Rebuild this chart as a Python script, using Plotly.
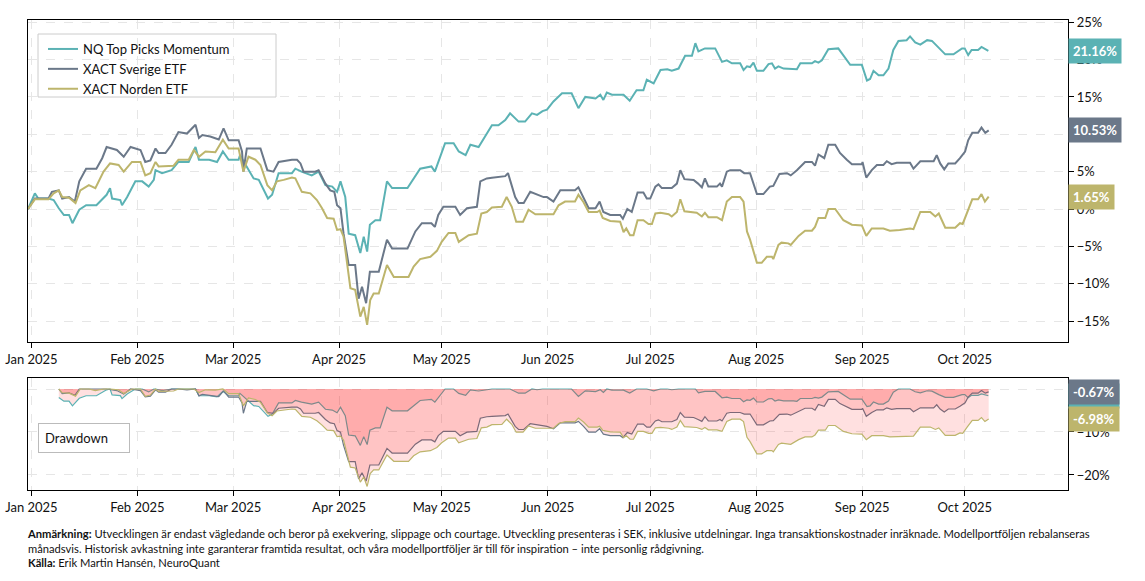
import pandas as pd
import plotly.graph_objects as go
from plotly.subplots import make_subplots

# ---- data (day offset from 2025-01-01, cumulative return in %) ----
SERIES_NAMES = ["NQ Top Picks Momentum", "XACT Sverige ETF", "XACT Norden ETF"]
SERIES_COLORS = ["#5BB2B4", "#6B7889", "#BDB56C"]

NQ = [(-1,0),(1,2.1),(2,1.4),(5,1.4),(6.5,1.2),(8,0.1),(9.5,-0.8),(11,-0.8),(12,-1.9),(14,-0.1),(16,0.5),(19,0.5),
      (22,1.9),(23,2.8),(23.6,1.4),(26,1.2),(26.5,0.5),(28,1.6),(30.4,3.7),(32.4,3.7),(34.3,3.0),(35.8,3.9),(36.3,5.2),
      (38.2,4.8),(41,5.2),(43,6.3),(46,6.3),(48,8.3),(49,6.6),(52,6.6),(54.3,6.3),(56,7.7),(57.7,6.6),(60.6,6.6),(61,7.2),
      (62.6,5.9),(65,4.1),(66.5,3.9),(68,2.5),(69.2,1.4),(70.4,1.9),(72.3,4.8),(76.2,4.8),(77.2,5.4),(79,5.0),(82,4.5),
      (84,5.0),(86,3.2),(88,3.0),(89.4,2.3),(90.4,3.7),(91.8,1.6),(92.8,-3.3),(94.7,-3.5),(96.2,-5.9),(97.2,-3.7),
      (98.2,-5.7),(99,-2.1),(100.6,-1.5),(102,-1.5),(104,3.7),(105.5,2.8),(110,2.8),(113.7,5.4),(117,5.7),(118,5.0),
      (121,8.8),(123.5,8.8),(125,7.7),(127,7.2),(128.4,8.6),(130.8,8.3),(134.7,11.2),(136.6,11.2),(138.6,11.9),(140,12.8),
      (142.5,11.7),(144.4,11.7),(146.4,12.8),(147.9,12.6),(149.5,13.1),(150.8,13.3),(152.7,14.4),(155.2,15.5),(158,15.5),
      (160,13.5),(162,15.0),(165,14.8),(166.4,15.3),(167.3,14.6),(168.3,15.6),(169.8,15.3),(173.2,15.3),(175,14.5),
      (177,15.9),(179,15.9),(180,17.3),(182,16.8),(184,18.6),(186,18.7),(187.3,18.5),(189.3,18.8),(191.2,20.5),
      (193.2,20.5),(194.2,22.2),(195.1,21.1),(197,21.5),(200,21.5),(202,19.7),(203.4,19.9),(204.9,19.5),(207.3,19.5),
      (208.3,18.6),(209.3,19.1),(210.2,19.0),(211.2,19.6),(212.2,18.5),(214.1,18.5),(215.6,19.4),(216.6,19.5),
      (217.5,18.8),(218.5,19.1),(220,18.8),(222.9,18.8),(223.9,18.7),(224.9,19.5),(228.3,19.5),(229.2,19.8),
      (230.2,19.6),(231.2,19.9),(233.1,21.4),(236,21.5),(237.5,20.6),(239.5,19.3),(242.9,19.3),(244.4,17.2),
      (245.3,17.4),(246.3,18.5),(247.8,17.9),(249.2,17.9),(250.7,18.8),(252.1,21.3),(253.6,22.5),(256,22.6),
      (257,23.1),(258.5,22.3),(260,22.0),(262,22.6),(263.4,22.5),(265.4,21.5),(267.3,20.7),(269.7,20.7),(272.2,21.5),
      (273,21.5),(274,20.6),(275,21.3),(276.9,21.3),(277.9,21.7),(278.9,21.4),(279.9,21.16)]

SVERIGE = [(-1,0),(1,1.4),(5,1.4),(6,2.3),(8,2.5),(9,1.4),(11,1.6),(12.7,1.0),(14,3.7),(16,5.4),(19,5.4),(20.7,6.8),
      (22,8.3),(25,7.9),(27,7.0),(29,8.3),(31.9,7.9),(33.3,6.3),(34.8,6.5),(36.3,8.1),(37.2,7.5),(39.2,7.5),(41,8.6),
      (43,10.3),(45.5,10.1),(48,11.28),(49,9.5),(50,9.9),(52.3,9.7),(54.8,9.3),(56.2,10.8),(57.7,9.2),(60.6,9.2),
      (61.6,7.7),(62,5.0),(63,8.1),(67,8.1),(69,5.2),(70.8,5.0),(72.3,6.3),(76.2,6.6),(77.7,6.6),(78.7,6.1),(79.6,5.0),
      (83,5.0),(84,5.2),(86,3.4),(87.4,2.5),(88.6,2.3),(89.4,0.5),(90.4,0.1),(91.3,-3.3),(92.8,-7.5),(94.7,-7.5),
      (95.7,-12.0),(96.7,-10.4),(97.9,-12.6),(99,-8.4),(101.6,-8.4),(104,-4.1),(105.5,-5.3),(110,-5.3),(112.3,-3.0),
      (114.2,-1.9),(117,-1.9),(118,-2.4),(119,-0.8),(120.5,0.3),(124,0.3),(125.4,-0.8),(127.4,0.1),(130.3,0.3),
      (131.3,3.7),(133.2,4.1),(134.7,4.2),(138.6,4.4),(139.4,4.8),(141.5,1.6),(142.5,0.8),(144,0.8),(145.9,2.3),
      (148.3,1.9),(149.8,1.6),(150.8,1.6),(152.7,1.0),(154.7,2.5),(159,2.5),(160,2.9),(161.5,1.6),(163,0.1),(165,0.1),
      (166.2,1.0),(167.3,-0.4),(169.3,-0.8),(172.2,-0.8),(173,-1.3),(174.3,0.0),(175.6,-0.4),(177.3,2.2),(179,2.2),
      (180,1.4),(181,1.4),(182.5,3.0),(183.4,3.3),(184.4,2.8),(187.3,2.8),(188.8,3.4),(189.8,5.2),(191,4.0),
      (193.7,3.9),(195,3.4),(196.1,2.9),(197,4.1),(198,3.0),(200.5,3.0),(201.4,3.4),(202,3.0),(203.4,5.0),(204.4,5.2),
      (207.3,5.2),(208.5,4.8),(210.2,4.8),(212.2,2.0),(214.1,2.0),(216,3.0),(217,3.1),(218.8,4.7),(221,4.8),
      (222.1,4.5),(223.9,5.2),(226.3,6.3),(228.3,6.3),(229.2,5.8),(230.2,7.3),(231.9,6.8),(233.1,8.6),(235.1,8.6),
      (236.5,7.5),(238.5,6.6),(240,6.0),(242.9,6.0),(243.1,6.3),(244.2,4.2),(245.8,5.2),(247.3,5.9),(249.2,5.9),
      (250.2,6.4),(251.6,6.0),(253.1,6.2),(257,6.2),(258,5.4),(260,6.4),(263.9,6.4),(264.8,7.2),(265.8,6.1),
      (267,5.3),(268.2,6.1),(270.2,6.1),(271.6,6.8),(273.1,7.7),(274,9.2),(275.2,10.2),(276.9,10.2),(277.9,10.9),
      (279,10.2),(280,10.53)]

NORDEN = [(-1,0),(1,1.3),(5,1.3),(6.5,2.1),(8,2.5),(9,1.6),(11,1.5),(12.9,0.8),(14.3,2.5),(16.8,3.2),(18.7,2.8),
      (21.1,5.0),(23,6.1),(25.5,5.9),(27,5.0),(29.4,6.3),(31.9,6.3),(33.3,4.5),(34.8,4.8),(36.3,6.3),(37.2,5.7),
      (41.6,5.8),(43,6.6),(46,6.6),(47.5,7.9),(49,7.0),(50.9,7.7),(53.8,7.6),(56,9.28),(57.7,8.1),(60.6,8.1),(62,5.0),
      (63.5,7.0),(65.5,6.6),(67,5.9),(69,3.2),(70.4,2.5),(71.8,3.7),(73.8,3.9),(76.2,4.2),(77.2,4.1),(79.1,2.3),
      (81.6,2.1),(83.5,1.2),(85,0.1),(86.5,-1.2),(88.4,-1.3),(89.4,-2.8),(90.4,-2.7),(91.3,-3.7),(93.3,-10.6),
      (94.7,-10.8),(96.2,-14.4),(97.2,-13.1),(98.2,-15.5),(99.1,-12.2),(100.1,-11.3),(101.6,-11.3),(104,-7.5),
      (106,-9.1),(110.3,-9.1),(111.8,-7.7),(113.7,-6.7),(116.7,-6.4),(118.6,-5.6),(120,-4.4),(122,-3.2),(124,-3.2),
      (125,-4.4),(127.9,-3.5),(130.3,-3.3),(131.6,-0.6),(133.2,-0.4),(134.7,0.2),(137.6,0.3),(139,1.6),(140.5,0.3),
      (141.8,-1.7),(143.8,-1.7),(145.4,-0.1),(147.4,-0.7),(149.8,-0.7),(152.7,-0.7),(154.2,0.5),(156.1,1.0),(159,1.0),
      (160,1.9),(161.5,0.9),(163,-0.4),(165.5,-0.4),(166.2,-0.2),(167.1,-1.2),(169.3,-1.6),(172.2,-1.7),(173.2,-3.1),
      (174,-2.6),(175.1,-3.5),(176.1,-3.5),(177.3,-1.5),(179,-1.5),(180.5,-2.0),(181.5,-2.0),(182.5,-0.6),(184,-0.5),
      (186.4,-0.7),(187.3,-1.0),(188.8,-0.4),(189.8,1.3),(191,-0.3),(194.6,-0.5),(196.1,-1.0),(197,-0.5),(198,-1.1),
      (200.5,-1.1),(202,-1.5),(203.4,1.0),(204.9,1.6),(207.3,1.6),(208.3,1.0),(209.3,-3.0),(210.2,-4.1),(212.2,-7.2),
      (213.6,-7.2),(215.1,-6.4),(216.6,-6.4),(217,-6.7),(218.5,-4.8),(219.4,-4.5),(221.4,-4.6),(222.1,-4.8),
      (224.4,-3.6),(226.3,-2.9),(228.3,-2.9),(229.2,-2.4),(230.2,-1.2),(232.2,-1.2),(233.1,0.0),(235.1,0.0),
      (237.5,-1.5),(240,-2.1),(242.9,-2.2),(244.2,-3.6),(245.8,-2.6),(249.2,-2.6),(251.1,-2.9),(254,-2.8),(257,-2.6),
      (258,-2.7),(260,-0.4),(262.9,-0.4),(264.4,-1.0),(265.4,-0.6),(267.3,-2.5),(270.2,-2.5),(271.6,-1.9),
      (272.4,-2.0),(273.7,-0.4),(275.2,1.3),(276.9,1.3),(277.9,2.0),(278.9,1.0),(280,1.65)]

DD_START_DAY = 8  # drawdown panel shown from this day on

FOOTNOTE = ("<b>Anmärkning:</b> Utvecklingen är endast vägledande och beror på exekvering, slippage och courtage. "
            "Utveckling presenteras i SEK, inklusive utdelningar. Inga transaktionskostnader inräknade. Modellportföljen rebalanseras<br>"
            "månadsvis. Historisk avkastning inte garanterar framtida resultat, och våra modellportföljer är till för inspiration – inte personlig rådgivning.<br>"
            "<b>Källa:</b> Erik Martin Hansén, NeuroQuant")

FONT = "Lato"
BASE = pd.Timestamp("2025-01-01")


def to_dates(days):
    return [BASE + pd.Timedelta(days=float(d)) for d in days]


fig = make_subplots(rows=2, cols=1, shared_xaxes=False, vertical_spacing=0.0,
                    row_heights=[0.7, 0.3])

all_series = [NQ, SVERIGE, NORDEN]
dd_final = []
for name, color, data in zip(SERIES_NAMES, SERIES_COLORS, all_series):
    days = [p[0] for p in data]
    vals = [p[1] for p in data]
    fig.add_trace(go.Scatter(x=to_dates(days), y=vals, name=name, mode="lines",
                             line=dict(color=color, width=2)), row=1, col=1)
    # drawdown
    peak = -1e9
    dd_days, dd_vals = [], []
    for d, v in zip(days, vals):
        lvl = 1 + v / 100.0
        peak = max(peak, lvl)
        if d >= DD_START_DAY:
            dd_days.append(d)
            dd_vals.append((lvl / peak - 1) * 100)
    dd_final.append(dd_vals[-1])
    fig.add_trace(go.Scatter(x=to_dates(dd_days), y=dd_vals, mode="lines", showlegend=False,
                             fill="tozeroy", fillcolor="rgba(255,0,0,0.12)",
                             line=dict(color=color, width=1.2)), row=2, col=1)

W, H = 1145, 581
L, T = 28, 20
R = W - 1068
B = H - 490
plot_w = 1068 - 28
plot_h = 490 - 20
main_dom = [(490 - 342) / plot_h, 1.0]
dd_dom = [0.0, (490 - 378) / plot_h]


def px_x(px):
    return (px - 28) / plot_w


def px_y(py):
    return 1 - (py - 20) / plot_h


xrange = [BASE - pd.Timedelta(days=1), BASE + pd.Timedelta(days=303.2)]
axis_common = dict(showline=True, linecolor="black", linewidth=1.2, mirror=True,
                   ticks="outside", ticklen=5, tickcolor="black", automargin=False,
                   showgrid=True, gridcolor="#e6e6e6", griddash="dash", gridwidth=1,
                   zeroline=False, tickfont=dict(size=13, color="#111", family=FONT))

fig.update_xaxes(**axis_common, range=xrange, dtick="M1", tick0="2025-01-01", tickformat="%b %Y",
                 ticklabeloverflow="allow")
fig.update_yaxes(**axis_common, side="right", ticksuffix="%")
fig.update_yaxes(range=[-17.8, 25.3], dtick=5, domain=main_dom, row=1, col=1)
fig.update_yaxes(range=[-23.5, 2.56], dtick=10, tick0=0, domain=dd_dom, row=2, col=1)
fig.update_xaxes(domain=[0, 1])

annotations = []
finals = [s[-1][1] for s in all_series]
for val, color in zip(finals, SERIES_COLORS):
    annotations.append(dict(x=1, xref="paper", y=val, yref="y", xanchor="left", yanchor="middle",
                            text=f"<b>{val:.2f}%</b>", showarrow=False, bgcolor=color, borderpad=4,
                            font=dict(color="white", size=13, family=FONT)))
for val, color in zip(dd_final, SERIES_COLORS):
    annotations.append(dict(x=1, xref="paper", y=val, yref="y2", xanchor="left", yanchor="middle",
                            text=f"<b>{val:.2f}%</b>", showarrow=False, bgcolor=color, borderpad=4,
                            font=dict(color="white", size=13, family=FONT)))
annotations.append(dict(x=px_x(38), xref="paper", y=px_y(423), yref="paper",
                        xanchor="left", yanchor="top", text="Drawdown", showarrow=False,
                        bgcolor="white", bordercolor="#bbbbbb", borderwidth=1, borderpad=6,
                        width=78, align="left", font=dict(size=13, color="#111", family=FONT)))
annotations.append(dict(x=px_x(25), xref="paper", y=px_y(525), yref="paper",
                        xanchor="left", yanchor="top", text=FOOTNOTE, showarrow=False, align="left",
                        font=dict(size=11.2, color="#111", family=FONT)))

# legend frame
shapes = [dict(type="rect", xref="paper", yref="paper", x0=px_x(38), x1=px_x(276),
               y0=px_y(97), y1=px_y(34), line=dict(color="#cccccc", width=1),
               fillcolor="white", layer="below")]

fig.update_layout(
    width=W, height=H, margin=dict(l=L, r=R, t=T, b=B),
    paper_bgcolor="white", plot_bgcolor="white",
    font=dict(family=FONT, size=13, color="#111"),
    legend=dict(x=px_x(43), y=px_y(34), xanchor="left", yanchor="top",
                bgcolor="rgba(0,0,0,0)", borderwidth=0,
                font=dict(size=13, family=FONT, color="#111")),
    annotations=annotations,
    shapes=shapes,
)

fig.write_html("out.html", config={"displayModeBar": False},
               post_script="document.body.style.margin='0';")
